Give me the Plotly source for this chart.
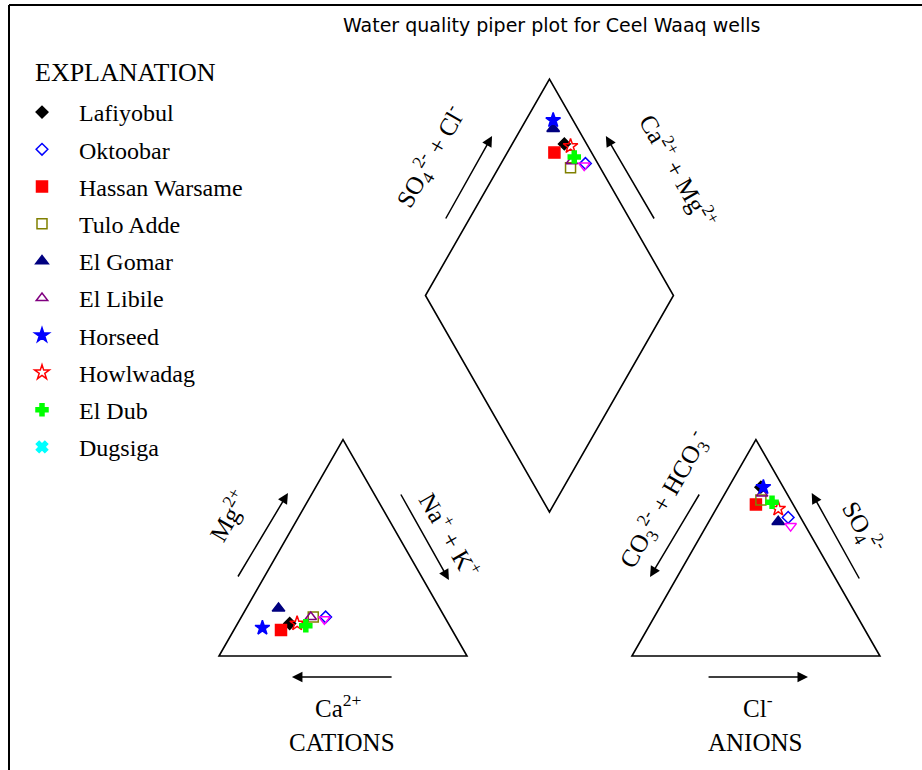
import plotly.graph_objects as go

# ---- well chemistry (percent of meq/L) ----
wells = ["Lafiyobul", "Oktoobar", "Hassan Warsame", "Tulo Adde", "El Gomar",
         "El Libile", "Horseed", "Howlwadag", "El Dub", "Dugsiga", ""]
ca   = [64, 48, 69, 53, 65, 54, 76, 61, 58, None, 49]
mg   = [15, 18, 12, 18, 22, 18, 13, 15, 14, None, 17]
nak  = [21, 34, 19, 29, 13, 28, 11, 24, 28, None, 34]
hco3 = [9, 5, 15, 12, 10, 10, 8, 7, 8, None, 6]
so4  = [78, 64, 70, 72, 62, 75, 78, 68, 71, None, 60]
cl   = [13, 31, 15, 16, 28, 15, 14, 25, 21, None, 34]

# marker styles per well
symbols = ["diamond", "diamond-open", "square", "square-open", "triangle-up",
           "triangle-up-open", "star", "star-open", "cross", "x", "triangle-down-open"]
colors = ["#000000", "#0000FF", "#FF0000", "#808000", "#000080",
          "#800080", "#0000FF", "#FF0000", "#00FF00", "#00FFFF", "#FF00FF"]
sizes = [9, 9, 11, 10, 11, 10, 11, 11, 10, 10, 10]

# ---- Piper geometry (triangle side = 100) ----
S = 100.0
GAP = 66.5
H = 0.8660254
AX0 = S + GAP  # left corner of the anion triangle


def piper_points(c_mg, c_na, a_so4, a_cl, a_hco3):
    """Return x, y of the cation, anion and diamond points."""
    xc = c_na + c_mg / 2.0
    yc = c_mg * H
    xa = AX0 + a_cl + a_so4 / 2.0
    ya = a_so4 * H
    x0c = c_na
    x0a = AX0 + S - a_hco3
    xd = (x0a + x0c) / 2.0
    yd = (x0a - x0c) * H
    return [xc, xa, xd], [yc, ya, yd]


fig = go.Figure()

for i, name in enumerate(wells):
    if mg[i] is None:
        xs, ys = [None], [None]
    else:
        xs, ys = piper_points(mg[i], nak[i], so4[i], cl[i], hco3[i])
    fig.add_trace(go.Scatter(
        x=xs, y=ys, mode="markers", name=name,
        legendgroup=f"g{i}", showlegend=bool(name),
        marker=dict(symbol=symbols[i], color=colors[i], size=sizes[i],
                    line=dict(color=colors[i], width=1.5)),
        hoverinfo="name",
    ))

# ---- frame of the diagram ----
line_style = dict(color="black", width=1.6)
shapes = []
# cation triangle
shapes.append(dict(type="path", xref="x", yref="y", layer="below", line=line_style,
                   path=f"M 0,0 L {S},0 L {S/2},{S*H} Z"))
# anion triangle
shapes.append(dict(type="path", xref="x", yref="y", layer="below", line=line_style,
                   path=f"M {AX0},0 L {AX0+S},0 L {AX0+S/2},{S*H} Z"))
# central diamond
xb, yb = S + GAP / 2, GAP * H
shapes.append(dict(type="path", xref="x", yref="y", layer="below", line=line_style,
                   path=(f"M {xb},{yb} L {xb - S/2},{yb + S*H} "
                         f"L {xb},{yb + 2*S*H} L {xb + S/2},{yb + S*H} Z")))
# page border (top and left)
shapes.append(dict(type="line", xref="paper", yref="paper",
                   x0=9/922, x1=1, y0=1-5/770, y1=1-5/770, line=dict(color="black", width=2)))
shapes.append(dict(type="line", xref="paper", yref="paper",
                   x0=9/922, x1=9/922, y0=0, y1=1-5/770, line=dict(color="black", width=2)))

# ---- direction arrows (tail -> head) ----
arrows = [
    ((7.3, 31.2), (27.8, 65.2)),      # Mg
    ((73.0, 65.2), (92.7, 30.4)),     # Na + K
    ((70.2, -8.4), (29.4, -8.4)),     # Ca
    ((196.8, -8.4), (237.5, -8.4)),   # Cl
    ((91.1, 174.4), (110.1, 208.0)),  # SO4 + Cl
    ((175.8, 174.4), (156.0, 208.0)), # Ca + Mg
    ((194.0, 65.2), (173.8, 31.6)),   # CO3 + HCO3
    ((258.5, 30.4), (239.0, 65.2)),   # SO4
]
annotations = []
for (tx, ty), (hx, hy) in arrows:
    annotations.append(dict(x=hx, y=hy, ax=tx, ay=ty, xref="x", yref="y",
                            axref="x", ayref="y", text="", showarrow=True,
                            arrowhead=2, arrowsize=1.4, arrowwidth=1.5,
                            arrowcolor="black"))

serif = dict(family="Liberation Serif", size=25, color="black")
labels = [
    ("Mg<sup>2+</sup>", 3.6, 56.4, -60),
    ("Na<sup>+</sup> + K<sup>+</sup>", 93.5, 48.6, 60),
    ("Ca<sup>2+</sup>", 48.2, -20.0, 0),
    ("CATIONS", 49.6, -34.6, 0),
    ("Cl<sup>-</sup>", 217.3, -20.0, 0),
    ("ANIONS", 216.1, -34.6, 0),
    ("SO<sub>4</sub><sup>2-</sup> + Cl<sup>-</sup>", 85.4, 199.6, -60),
    ("Ca<sup>2+</sup> + Mg<sup>2+</sup>", 185.3, 194.4, 60),
    ("CO<sub>3</sub><sup>2-</sup> + HCO<sub>3</sub><sup>-</sup>", 179.4, 62.4, -60),
    ("SO<sub>4</sub><sup>2-</sup>", 259.3, 51.6, 60),
]
for txt, x, y, ang in labels:
    annotations.append(dict(x=x, y=y, xref="x", yref="y", text=txt, showarrow=False,
                            textangle=ang, font=serif))

annotations.append(dict(x=551/922, y=1-25/770, xref="paper", yref="paper",
                        xanchor="center", yanchor="middle",
                        text="Water quality piper plot for Ceel Waaq wells",
                        showarrow=False, font=dict(family="DejaVu Sans", size=19, color="black")))
annotations.append(dict(x=33/922, y=1-72/770, xref="paper", yref="paper",
                        xanchor="left", yanchor="middle", text="EXPLANATION", showarrow=False,
                        font=dict(family="Liberation Serif", size=26, color="black")))

fig.update_layout(
    width=922, height=770,
    margin=dict(l=0, r=0, t=0, b=0),
    paper_bgcolor="white", plot_bgcolor="white",
    xaxis=dict(range=[-219/2.48, (922-219)/2.48], visible=False, fixedrange=True),
    yaxis=dict(range=[-(770-656)/2.5, 656/2.5], visible=False, fixedrange=True),
    shapes=shapes, annotations=annotations,
    showlegend=True,
    legend=dict(x=5/922, y=1-90/770, xanchor="left", yanchor="top",
                bgcolor="rgba(0,0,0,0)", itemwidth=64, tracegroupgap=3,
                font=dict(family="Liberation Serif", size=24, color="black"),
                itemclick=False, itemdoubleclick=False),
)

fig.write_html("out.html")
